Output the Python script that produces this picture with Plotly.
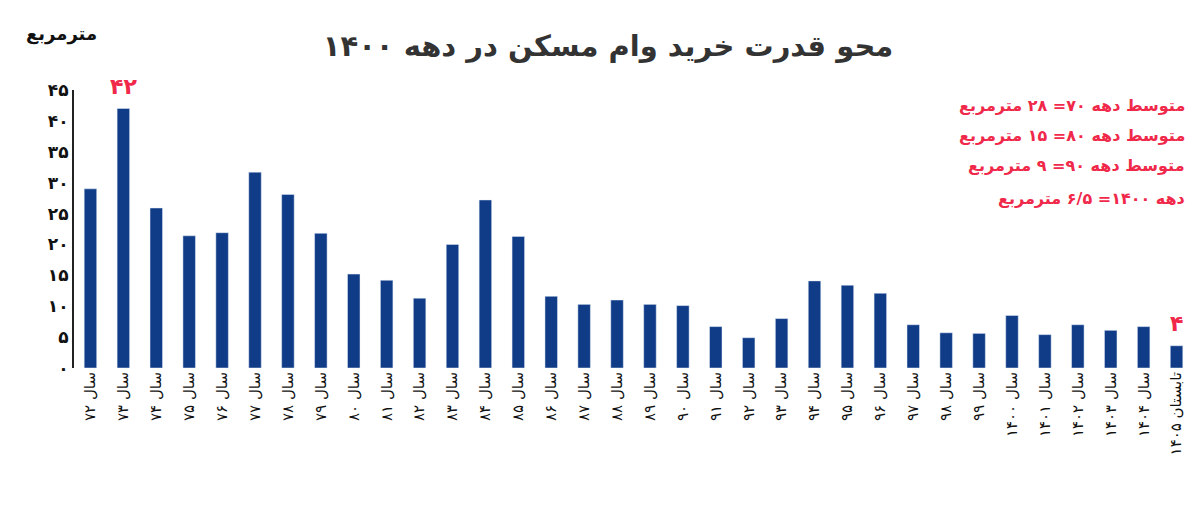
import plotly.graph_objects as go

FA = str.maketrans("0123456789", "۰۱۲۳۴۵۶۷۸۹")

years = [str(y) for y in range(72, 100)] + [str(y) for y in range(1400, 1405)]
categories = ["سال " + y.translate(FA) for y in years] + ["تابستان " + "1405".translate(FA)]
values = [29, 42, 25.9, 21.4, 21.9, 31.7, 28.1, 21.8, 15.2, 14.2, 11.3, 20, 27.2, 21.3,
          11.6, 10.3, 11, 10.3, 10.1, 6.7, 4.9, 8, 14.1, 13.4, 12.1, 7, 5.7, 5.6,
          8.5, 5.4, 7, 6.1, 6.7, 3.6]
y_ticks = [0, 5, 10, 15, 20, 25, 30, 35, 40, 45]
notes = [
    "متوسط دهه ۷۰= ۲۸ مترمربع",
    "متوسط دهه ۸۰= ۱۵ مترمربع",
    "متوسط دهه ۹۰= ۹ مترمربع",
    "دهه ۱۴۰۰= ۶/۵ مترمربع",
]
note_y = [0.945, 0.836, 0.727, 0.61]
highlights = {1: "42", len(values) - 1: "4"}

FONT = "DejaVu Sans"
RED = "#f0284a"

fig = go.Figure(go.Bar(x=categories, y=values, marker_color="#0f3b87", width=0.38))

fig.update_layout(
    width=1200, height=509,
    paper_bgcolor="white", plot_bgcolor="white",
    margin={"l": 66, "r": 15, "t": 82, "b": 149},
    font={"family": FONT, "color": "#222"},
    showlegend=False,
    title={"text": "<b>محو قدرت خرید وام مسکن در دهه ۱۴۰۰</b>", "x": 0.5, "y": 0.925,
           "yanchor": "middle", "font": {"size": 29, "color": "#333"}},
    xaxis={"tickangle": -90, "tickfont": {"size": 15, "color": "#111"}, "showline": False},
    yaxis={"range": [0, 45], "tickvals": y_ticks,
           "ticktext": ["<b>%s</b>" % str(v).translate(FA) for v in y_ticks],
           "tickfont": {"size": 17, "color": "#111"}, "showgrid": False,
           "showline": True, "linecolor": "#222", "linewidth": 2, "ticks": "", "zeroline": False},
)
for i, t in highlights.items():
    fig.add_annotation(x=categories[i], y=values[i], text="<b>%s</b>" % t.translate(FA),
                       yanchor="bottom", yshift=8, showarrow=False,
                       font={"size": 22, "color": RED})
fig.add_annotation(text="<b>مترمربع</b>", xref="paper", yref="paper", x=-0.045, y=1.2,
                   xanchor="left", yanchor="middle", showarrow=False,
                   font={"size": 18, "color": "#111"})
for n, ny in zip(notes, note_y):
    fig.add_annotation(text="<b>%s</b>" % n, xref="paper", yref="paper", x=0.995, y=ny,
                       xanchor="right", yanchor="middle", showarrow=False,
                       font={"size": 16, "color": RED})

fig.write_html("out.html")
